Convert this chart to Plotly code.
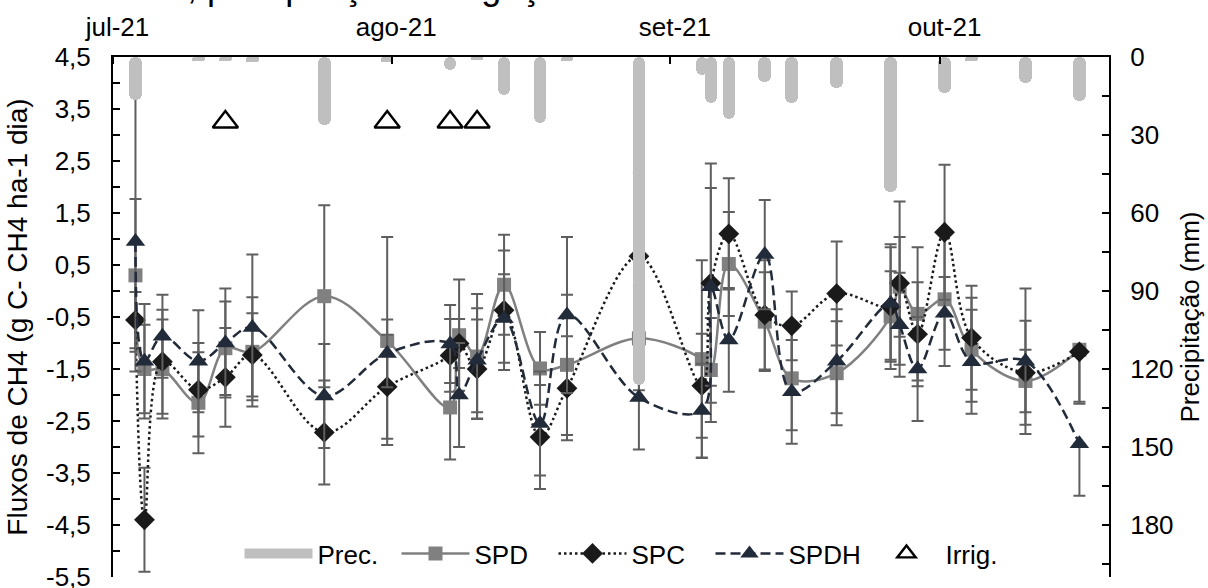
import pandas as pd
import plotly.graph_objects as go

# ---------------- data ----------------
dates = ["2021-07-03", "2021-07-04", "2021-07-06", "2021-07-10", "2021-07-13", "2021-07-16",
         "2021-07-24", "2021-07-31", "2021-08-07", "2021-08-08", "2021-08-10", "2021-08-13",
         "2021-08-17", "2021-08-20", "2021-08-28", "2021-09-04", "2021-09-05", "2021-09-07",
         "2021-09-11", "2021-09-14", "2021-09-19", "2021-09-25", "2021-09-26", "2021-09-28",
         "2021-10-01", "2021-10-04", "2021-10-10", "2021-10-16"]

spd = [0.3, -1.5, -1.5, -2.15, -1.1, -1.17, -0.1, -0.96, -2.24, -0.85, -1.26, 0.12, -1.49, -1.42,
       -0.91, -1.31, -1.52, 0.52, -0.59, -1.68, -1.58, -0.49, 0.08, -0.44, -0.16, -1.13, -1.73, -1.13]
spc = [-0.56, -4.4, -1.36, -1.9, -1.66, -1.23, -2.72, -1.84, -1.24, -1.01, -1.5, -0.37, -2.81, -1.87,
       0.67, -1.82, 0.15, 1.1, -0.46, -0.67, -0.05, -0.3, 0.15, -0.83, 1.13, -0.9, -1.57, -1.17]
spdh = [0.95, -1.35, -0.87, -1.35, -1.0, -0.7, -2.02, -1.2, -1.02, -2.0, -1.33, -0.53, -2.55, -0.46,
        -2.05, -2.3, 0.08, -0.94, 0.7, -1.94, -1.35, -0.24, -0.65, -1.5, -0.43, -1.36, -1.35, -2.94]

# error bars (upper / lower)
spd_err_up = [1.47, 0.85, 0.95, 0.97, 0.9, 1.05, 1.75, 2.0, 1.0, 1.07, 1.2, 0.96, 0.7, 1.35,
              1.0, 1.9, 1.0, 1.0, 0.95, 1.0, 1.0, 0.87, 0.96, 1.28, 1.28, 1.0, 0.6, 0.0]
spd_err_low = [1.47, 0.85, 0.95, 0.97, 0.9, 1.05, 1.75, 2.0, 1.0, 1.07, 1.2, 0.96, 0.7, 1.35,
               1.0, 1.9, 1.0, 1.0, 0.95, 1.0, 1.0, 0.87, 0.96, 1.28, 1.28, 1.0, 0.6, 1.0]
spc_err_up = [0.54, 1.0, 1.0, 0.9, 0.95, 0.8, 1.0, 1.0, 0.7, 0.47, 0.95, 1.15, 1.0, 1.0,
              1.6, 1.0, 2.3, 1.07, 1.05, 0.66, 1.0, 1.2, 1.57, 1.0, 1.3, 1.0, 1.0, 0.0]
spc_err_low = [0.54, 1.0, 1.0, 0.9, 0.95, 0.8, 1.0, 1.0, 0.7, 0.47, 0.95, 1.15, 1.0, 1.0,
               1.6, 1.0, 2.3, 1.07, 1.05, 0.66, 1.0, 1.2, 1.57, 1.0, 1.3, 1.0, 1.0, 1.0]
spdh_err_up = [3.8, 1.1, 0.8, 0.98, 1.05, 1.4, 1.0, 0.65, 0.75, 1.0, 1.0, 0.85, 1.0, 1.5,
               1.0, 0.9, 1.9, 1.0, 1.05, 1.0, 1.0, 1.08, 1.0, 1.0, 0.7, 1.0, 1.4, 0.0]
spdh_err_low = [2.5, 1.1, 0.8, 0.98, 1.05, 1.4, 1.0, 0.65, 0.75, 1.0, 1.0, 0.85, 1.0, 1.5,
                1.0, 0.9, 1.9, 1.0, 1.05, 1.0, 1.0, 1.08, 1.0, 1.0, 0.7, 1.0, 1.4, 1.0]

prec_dates = ["2021-07-03", "2021-07-10", "2021-07-13", "2021-07-16", "2021-07-24", "2021-07-31",
              "2021-08-07", "2021-08-10", "2021-08-13", "2021-08-17", "2021-08-20", "2021-08-28",
              "2021-09-04", "2021-09-05", "2021-09-07", "2021-09-11", "2021-09-14", "2021-09-19",
              "2021-09-25", "2021-10-01", "2021-10-04", "2021-10-10", "2021-10-16"]
prec_mm = [16.5, 1.5, 1.5, 2, 26, 2, 5, 1, 14.5, 25.5, 1.5, 126, 7, 17.5, 24, 9.5, 17.5, 12,
           52, 14, 1.5, 10, 17]

irrig_dates = ["2021-07-13", "2021-07-31", "2021-08-07", "2021-08-10"]
irrig_level = [3.25, 3.25, 3.25, 3.25]

month_ticks = ["2021-07-01", "2021-08-01", "2021-09-01", "2021-10-01"]
month_labels = ["jul-21", "ago-21", "set-21", "out-21"]

left_ticks = [4.5, 3.5, 2.5, 1.5, 0.5, -0.5, -1.5, -2.5, -3.5, -4.5, -5.5]
right_ticks = [0, 30, 60, 90, 120, 150, 180]

title_text = "Fluxos de CH4, precipitação e irrigação"

# ------------- helpers -------------
HALF_DAY = pd.Timedelta(hours=12)


def mid(d):
    return pd.to_datetime(d) + HALF_DAY


FONT = "Liberation Sans, Arial, sans-serif"
FS = 26
ERR_COLOR = "#5f5f5f"
PREC_COLOR = "#bfbfbf"

fig = go.Figure()

fig.add_trace(go.Bar(
    x=mid(prec_dates), y=prec_mm, yaxis="y2", name="Prec.", showlegend=False,
    marker=dict(color=PREC_COLOR, line=dict(width=0), cornerradius=6),
    width=1.4 * 86400000, base=0,
))
# legend entry for precipitation (wide grey swatch)
fig.add_trace(go.Scatter(
    x=[None], y=[None], name="Prec.", mode="lines",
    line=dict(color=PREC_COLOR, width=14),
))


def err(up, low):
    return dict(type="data", array=up, arrayminus=low, color=ERR_COLOR, thickness=2, width=6)


fig.add_trace(go.Scatter(
    x=mid(dates), y=spd, name="SPD", mode="lines+markers",
    line=dict(color="#808080", width=2.5, shape="spline", smoothing=1),
    marker=dict(symbol="square", size=14, color="#808080"),
    error_y=err(spd_err_up, spd_err_low),
))
fig.add_trace(go.Scatter(
    x=mid(dates), y=spc, name="SPC", mode="lines+markers",
    line=dict(color="#1a1a1a", width=2.5, dash="2.5px,3px", shape="spline", smoothing=1),
    marker=dict(symbol="diamond", size=16, color="#1a1a1a"),
    error_y=err(spc_err_up, spc_err_low),
))
fig.add_trace(go.Scatter(
    x=mid(dates), y=spdh, name="SPDH", mode="lines+markers",
    line=dict(color="#222b3a", width=2.5, dash="10px,5px", shape="spline", smoothing=1),
    marker=dict(symbol="triangle-up", size=17, color="#222b3a"),
    error_y=err(spdh_err_up, spdh_err_low),
))
fig.add_trace(go.Scatter(
    x=mid(irrig_dates), y=irrig_level, name="Irrig.", mode="markers",
    marker=dict(symbol="triangle-up-open", size=22, color="#000000", line=dict(width=2.4, color="#000000")),
))

fig.add_annotation(
    text=title_text, xref="paper", yref="paper", x=-0.1666, y=1.0923,
    xanchor="left", yanchor="bottom", showarrow=False,
    font=dict(family=FONT, size=36, color="#000000"),
)

fig.update_layout(
    width=1208, height=588,
    margin=dict(l=113, r=99, t=57, b=11, autoexpand=False),
    paper_bgcolor="white", plot_bgcolor="white",
    font=dict(family=FONT, size=FS, color="#000000"),
    showlegend=True,
    legend=dict(orientation="h", x=0.127, y=0.0, xanchor="left", yanchor="bottom",
                bgcolor="rgba(0,0,0,0)", font=dict(size=FS), entrywidth=74, itemwidth=68,
                traceorder="normal"),
    bargap=0,
    xaxis=dict(
        type="date", side="top", automargin=False,
        range=[pd.to_datetime("2021-07-01"), pd.to_datetime("2021-10-19 19:00")],
        tickvals=mid(month_ticks), ticktext=month_labels, ticks="",
        showline=True, linecolor="#000000", linewidth=2, showgrid=False, zeroline=False,
        ticklabelstandoff=9,
        minor=dict(tickvals=pd.to_datetime(month_ticks), ticks="inside", ticklen=7,
                   tickwidth=2, tickcolor="#000000"),
    ),
    yaxis=dict(
        automargin=False, ticklabeloverflow="allow",
        range=[-5.5005, 4.5005], tickvals=left_ticks,
        ticktext=[f"{v:.1f}".replace(".", ",") for v in left_ticks],
        ticks="inside", ticklen=7, tickwidth=2, tickcolor="#000000",
        minor=dict(dtick=0.5, tick0=0, ticks="inside", ticklen=7, tickwidth=2, tickcolor="#000000"),
        showline=True, linecolor="#000000", linewidth=2, showgrid=False, zeroline=False,
        ticklabelstandoff=15,
        title=dict(text="Fluxos de CH4 (g C- CH4 ha-1 dia)", standoff=10, font=dict(size=28)),
    ),
    yaxis2=dict(
        automargin=False, ticklabeloverflow="allow",
        overlaying="y", side="right", range=[200, 0], tickvals=right_ticks,
        ticks="inside", ticklen=7, tickwidth=2, tickcolor="#000000",
        minor=dict(dtick=15, tick0=0, ticks="inside", ticklen=7, tickwidth=2, tickcolor="#000000"),
        showline=True, linecolor="#000000", linewidth=2, showgrid=False, zeroline=False,
        ticklabelstandoff=14,
        title=dict(text="Precipitação (mm)", standoff=8, font=dict(size=FS)),
    ),
)

fig.write_html(
    "out.html",
    config={"displayModeBar": False},
    post_script="document.body.style.margin='0px'; document.body.style.overflow='hidden';",
)
